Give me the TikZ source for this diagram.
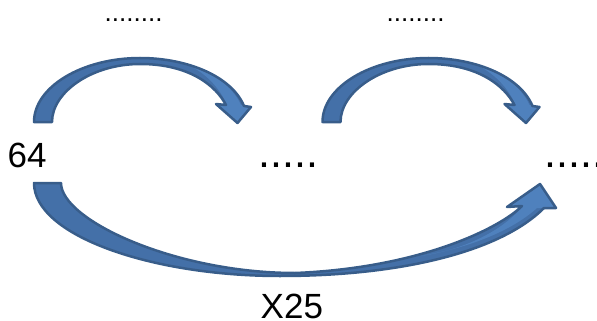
\documentclass[tikz,border=0pt]{standalone}
\usepackage{fontspec}
\setmainfont{Liberation Sans}
\definecolor{arrowdark}{HTML}{385D8A}
\definecolor{arrowback}{HTML}{4470A8}
\definecolor{arrowfront}{HTML}{4F81BD}
\tikzset{
  outline/.style={draw=arrowdark, line width=2.5pt, line join=round},
  backface/.style={fill=arrowback},
  frontface/.style={fill=arrowfront},
  bigtext/.style={font=\fontsize{35}{40}\selectfont, inner sep=0pt, anchor=base west},
  dotstext/.style={font=\fontsize{43}{48}\selectfont, inner sep=0pt, anchor=base west},
  smalldots/.style={font=\fontsize{26}{30}\selectfont, inner sep=0pt, anchor=base west},
  toparrow/.pic={
    \path[backface]
      (34,122) .. controls (34,87) and (82,58) .. (140,58)
      .. controls (188.5,58) and (232,77) .. (244,106)
      -- (251,107) -- (237.5,123) -- (216,104) -- (226,105)
      .. controls (216,86) and (190,64) .. (140,64)
      .. controls (92,64) and (52,92) .. (52,122) -- cycle;
    \path[frontface]
      (186,64) .. controls (212,70) and (232,86) .. (241,105)
      -- (251,107) -- (237.5,123) -- (216,104) -- (227,105)
      .. controls (220,88) and (205,72) .. (186,64) -- cycle;
    \path[outline]
      (34,122) .. controls (34,87) and (82,58) .. (140,58)
      .. controls (188.5,58) and (232,77) .. (244,106)
      -- (251,107) -- (237.5,123) -- (216,104) -- (226,105)
      .. controls (216,86) and (190,64) .. (140,64)
      .. controls (92,64) and (52,92) .. (52,122) -- cycle;
  }
}
\begin{document}
\begin{tikzpicture}[x=1pt,y=-1pt]
  \useasboundingbox (0,0) rectangle (597,321);
  % top arrows
  \pic (arrowA) at (0,0) {toparrow};
  \pic (arrowB) at (288.5,0) {toparrow};
  % bottom arrow
  \path[backface]
    (34,183) .. controls (34,235) and (150,276) .. (280,276)
    .. controls (400,276) and (500,252) .. (544,208)
    -- (556,208) -- (540,184) -- (507,207) -- (522,206)
    .. controls (500,228) and (420,268) .. (295,273)
    .. controls (175,273) and (61,220) .. (61,183) -- cycle;
  \path[frontface]
    (420,256) .. controls (465,250) and (503,230) .. (522,207)
    -- (507,207) -- (540,184) -- (556,208) -- (537,208)
    .. controls (515,228) and (475,247) .. (420,256) -- cycle;
  \path[outline]
    (34,183) .. controls (34,235) and (150,276) .. (280,276)
    .. controls (400,276) and (500,252) .. (544,208)
    -- (556,208) -- (540,184) -- (507,207) -- (522,206)
    .. controls (500,228) and (420,268) .. (295,273)
    .. controls (175,273) and (61,220) .. (61,183) -- cycle;
  % texts
  \node[smalldots] (dotsA) at (104.5,21.5) {........};
  \node[smalldots] (dotsB) at (386.5,21.5) {........};
  \node[bigtext] (start) at (7.5,167) {64};
  \node[dotstext] (mid) at (258,167) {.....};
  \node[dotstext] (end) at (544,167) {.....};
  \node[bigtext] (factor) at (260.5,318) {X25};
\end{tikzpicture}
\end{document}
